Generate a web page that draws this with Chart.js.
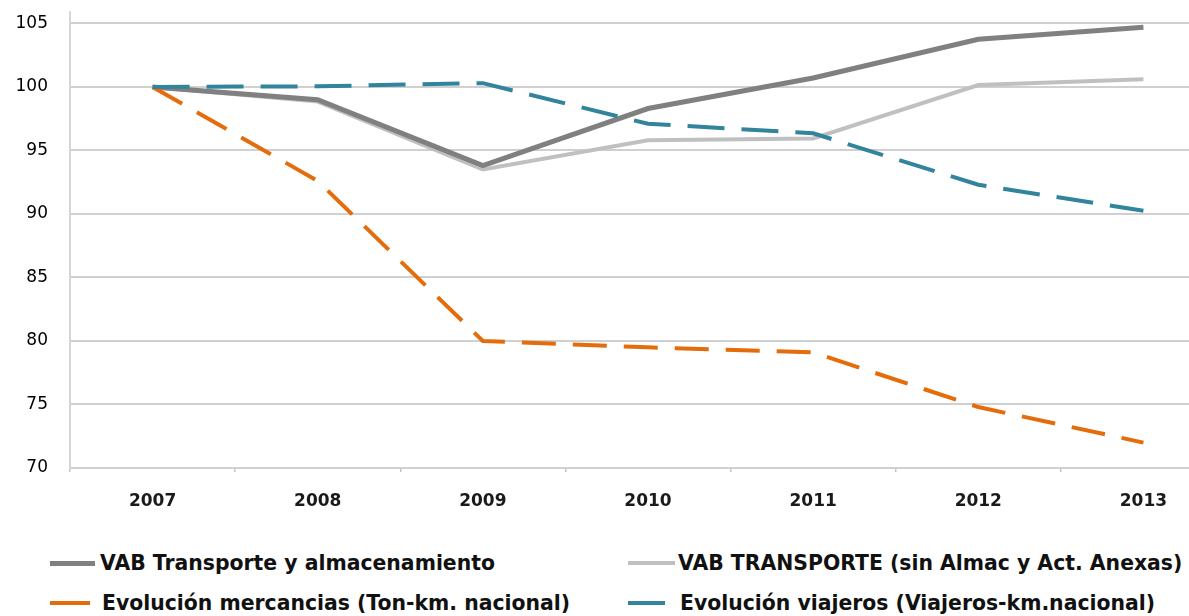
<!DOCTYPE html>
<html>
<head>
<meta charset="utf-8">
<script src="https://cdn.jsdelivr.net/npm/chart.js@4"></script>
<style>
  html, body { margin: 0; padding: 0; background: #fff; overflow: hidden; width: 1189px; height: 616px; }
  #wrap { position: absolute; left: 0; top: 0; width: 1240px; height: 520px; }
  .lg { position: absolute; font-family: "DejaVu Sans", sans-serif; font-weight: bold; font-size: 20.4px; color: #111; white-space: nowrap; line-height: 24px; }
  .sw { position: absolute; }
</style>
</head>
<body>
<div id="wrap"><canvas id="c" width="1240" height="520"></canvas></div>
<div id="legend"></div>
<script>
const categories = ['2007', '2008', '2009', '2010', '2011', '2012', '2013'];
const vabTransporteAlmac = [100, 99.0, 93.8, 98.3, 100.7, 103.75, 104.7];
const vabTransporteSin = [100, 98.85, 93.5, 95.8, 95.95, 100.15, 100.6];
const mercancias = [100, 92.6, 80.0, 79.5, 79.1, 74.8, 72.0];
const viajeros = [100, 100.05, 100.3, 97.1, 96.35, 92.3, 90.25];
const yTickValues = [70, 75, 80, 85, 90, 95, 100, 105];
const seriesNames = [
  'VAB Transporte y almacenamiento',
  'VAB TRANSPORTE (sin Almac y Act. Anexas)',
  'Evolución mercancias (Ton-km. nacional)',
  'Evolución viajeros (Viajeros-km.nacional)'
];

const colors = ['#808080', '#c0c0c0', '#e46c0a', '#31849b'];

new Chart(document.getElementById('c'), {
  type: 'line',
  data: {
    labels: categories,
    datasets: [
      { label: seriesNames[0], data: vabTransporteAlmac, borderColor: colors[0], borderWidth: 5, pointRadius: 0, tension: 0, order: 2 },
      { label: seriesNames[1], data: vabTransporteSin, borderColor: colors[1], borderWidth: 4, pointRadius: 0, tension: 0, order: 3 },
      { label: seriesNames[2], data: mercancias, borderColor: colors[2], borderWidth: 4, borderDash: [34, 17], pointRadius: 0, tension: 0, order: 1 },
      { label: seriesNames[3], data: viajeros, borderColor: colors[3], borderWidth: 4, borderDash: [37, 17], pointRadius: 0, tension: 0, order: 0 }
    ]
  },
  options: {
    responsive: false,
    animation: false,
    layout: { padding: { top: 12, right: 14, left: 0, bottom: 0 } },
    plugins: { legend: { display: false }, tooltip: { enabled: false } },
    scales: {
      x: {
        offset: true,
        grid: { display: true, offset: true, drawOnChartArea: false, drawTicks: true, tickLength: 4, color: '#c4c4c4', lineWidth: 1.5 },
        border: { display: true, color: '#d0d0d0', width: 2 },
        ticks: { color: '#1a1a1a', font: { family: 'DejaVu Sans', weight: 'bold', size: 17 }, padding: 19, maxRotation: 0 },
        afterFit: (s) => { s.height = 52; }
      },
      y: {
        min: 70,
        max: 105.9,
        ticks: { color: '#000', font: { family: 'DejaVu Sans', size: 17 }, padding: 22 },
        afterBuildTicks: (s) => { s.ticks = yTickValues.map(v => ({ value: v })); },
        grid: { color: '#d0d0d0', lineWidth: 2, drawTicks: false },
        border: { display: true, color: '#d6d6d6', width: 2 },
        afterFit: (s) => { s.width = 70; s.paddingTop = 0; s.paddingBottom = 0; }
      }
    }
  }
});

// HTML legend in two columns, built from the series names/colors
const legendPos = [
  { sx: 50, sw: 45, sh: 5, tx: 100, y: 563 },
  { sx: 628, sw: 47, sh: 4, tx: 678, y: 563 },
  { sx: 50, sw: 40, sh: 4, tx: 102, y: 603 },
  { sx: 628, sw: 37, sh: 4, tx: 680, y: 603 }
];
const lg = document.getElementById('legend');
seriesNames.forEach((name, i) => {
  const p = legendPos[i];
  const sw = document.createElement('div');
  sw.className = 'sw';
  sw.style.left = p.sx + 'px';
  sw.style.top = (p.y - p.sh / 2) + 'px';
  sw.style.width = p.sw + 'px';
  sw.style.height = p.sh + 'px';
  sw.style.background = colors[i];
  lg.appendChild(sw);
  const t = document.createElement('div');
  t.className = 'lg';
  t.style.left = p.tx + 'px';
  t.style.top = (p.y - 12) + 'px';
  t.textContent = name;
  lg.appendChild(t);
});
</script>
</body>
</html>
